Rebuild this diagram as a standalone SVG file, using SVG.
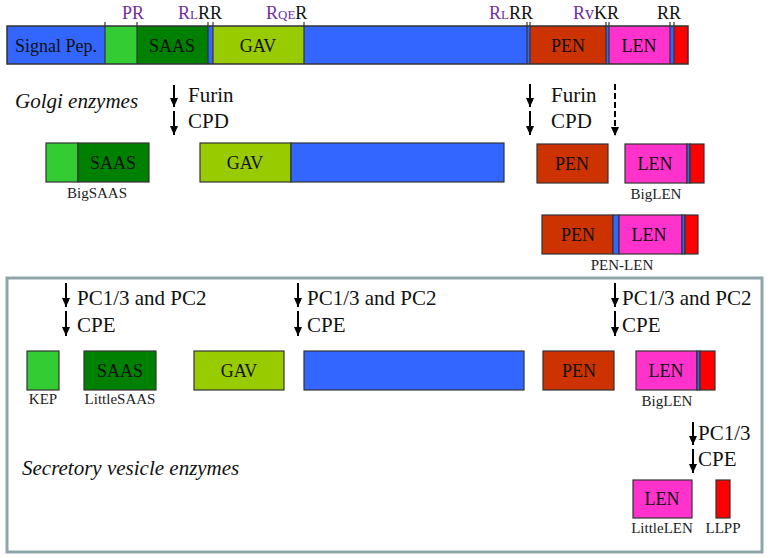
<svg xmlns="http://www.w3.org/2000/svg" width="770" height="558" viewBox="0 0 770 558" font-family="'Liberation Serif', serif">
<style>
.seg{stroke:#333;stroke-width:1.2}
.sp{fill:#3366FF}.lg{fill:#33CC33}.dg{fill:#008000}.gav{fill:#99CC00}.pen{fill:#CC3300}.len{fill:#FF33CC}.red{fill:#FF0000}
text{font-family:'Liberation Serif', serif}
.t{fill:#111}
.bar{font-size:18px}
.lab{font-size:15px;fill:#222}
.big{font-size:21px;fill:#111}
.it{font-style:italic}
.pu{fill:#7030A0}
.tick{stroke:#333;stroke-width:1.2}
.arr{stroke:#000;stroke-width:2;fill:none}
</style>
<defs>
<marker id="ah" markerUnits="userSpaceOnUse" markerWidth="9" markerHeight="8" refX="9" refY="4" orient="auto" viewBox="0 0 9 8">
<path d="M0,0 L9,4 L0,8 Z" fill="#000"/>
</marker>
</defs>

<g id="precursor">
<rect class="sp" x="7" y="26" width="98" height="38"/>
<rect class="lg" x="105" y="26" width="32" height="38"/>
<rect class="dg" x="137" y="26" width="71" height="38"/>
<rect class="sp" x="208" y="26" width="5" height="38"/>
<rect class="gav" x="213" y="26" width="91" height="38"/>
<rect class="sp" x="304" y="26" width="226" height="38"/>
<rect class="pen" x="530" y="26" width="76" height="38"/>
<rect class="sp" x="606" y="26" width="3" height="38"/>
<rect class="len" x="609" y="26" width="61" height="38"/>
<rect class="sp" x="670" y="26" width="4" height="38"/>
<rect class="red" x="674" y="26" width="14" height="38"/>
<rect x="7" y="26" width="681" height="38" fill="none" stroke="#333" stroke-width="1.5"/>
<line class="tick" x1="105" y1="22" x2="105" y2="64"/>
<line class="tick" x1="137" y1="22" x2="137" y2="64"/>
<line class="tick" x1="208" y1="22" x2="208" y2="64"/>
<line class="tick" x1="213" y1="22" x2="213" y2="64"/>
<line class="tick" x1="304" y1="22" x2="304" y2="64"/>
<line class="tick" x1="527" y1="22" x2="527" y2="64"/>
<line class="tick" x1="530" y1="22" x2="530" y2="64"/>
<line class="tick" x1="606" y1="22" x2="606" y2="64"/>
<line class="tick" x1="609" y1="22" x2="609" y2="64"/>
<line class="tick" x1="670" y1="22" x2="670" y2="64"/>
<line class="tick" x1="674" y1="22" x2="674" y2="64"/>
<text class="t bar" x="15" y="52">Signal Pep.</text>
<text class="t bar" x="172" y="52" text-anchor="middle">SAAS</text>
<text class="t bar" x="258" y="52" text-anchor="middle">GAV</text>
<text class="t bar" x="568" y="52" text-anchor="middle">PEN</text>
<text class="t bar" x="639" y="52" text-anchor="middle">LEN</text>
<text class="t bar" x="122" y="19"><tspan class="pu">PR</tspan></text>
<text class="t bar" x="178" y="19"><tspan class="pu">R</tspan><tspan class="pu" font-size="13">L</tspan><tspan fill="#111">RR</tspan></text>
<text class="t bar" x="266" y="19"><tspan class="pu">R</tspan><tspan class="pu" font-size="13">QE</tspan><tspan fill="#111">R</tspan></text>
<text class="t bar" x="489" y="19"><tspan class="pu">R</tspan><tspan class="pu" font-size="13">L</tspan><tspan fill="#111">RR</tspan></text>
<text class="t bar" x="573" y="19"><tspan class="pu">Rv</tspan><tspan fill="#111">KR</tspan></text>
<text class="t bar" x="657" y="19">RR</text>
</g>

<g id="golgi-label">
<text class="t big it" x="15" y="108">Golgi enzymes</text>
</g>

<g id="connectors">
<line class="arr" x1="174" y1="85" x2="174" y2="107" marker-end="url(#ah)"/>
<line class="arr" x1="174" y1="111" x2="174" y2="135" marker-end="url(#ah)"/>
<line class="arr" x1="530" y1="84" x2="530" y2="107" marker-end="url(#ah)"/>
<line class="arr" x1="530" y1="111" x2="530" y2="135" marker-end="url(#ah)"/>
<line class="arr" x1="615" y1="84" x2="615" y2="136" stroke-dasharray="6,3" marker-end="url(#ah)"/>
<line class="arr" x1="66" y1="283" x2="66" y2="307" marker-end="url(#ah)"/>
<line class="arr" x1="66" y1="311" x2="66" y2="336" marker-end="url(#ah)"/>
<line class="arr" x1="298" y1="283" x2="298" y2="307" marker-end="url(#ah)"/>
<line class="arr" x1="298" y1="311" x2="298" y2="336" marker-end="url(#ah)"/>
<line class="arr" x1="615" y1="283" x2="615" y2="307" marker-end="url(#ah)"/>
<line class="arr" x1="615" y1="311" x2="615" y2="336" marker-end="url(#ah)"/>
<line class="arr" x1="693" y1="422" x2="693" y2="445" marker-end="url(#ah)"/>
<line class="arr" x1="693" y1="449" x2="693" y2="473" marker-end="url(#ah)"/>
</g>

<g id="enzyme-labels">
<text class="t big" x="188" y="102">Furin</text>
<text class="t big" x="188" y="128">CPD</text>
<text class="t big" x="551" y="102">Furin</text>
<text class="t big" x="551" y="128">CPD</text>
<text class="t big" x="77" y="305">PC1/3 and PC2</text>
<text class="t big" x="77" y="332">CPE</text>
<text class="t big" x="307" y="305">PC1/3 and PC2</text>
<text class="t big" x="307" y="332">CPE</text>
<text class="t big" x="622" y="305">PC1/3 and PC2</text>
<text class="t big" x="622" y="332">CPE</text>
<text class="t big" x="698" y="440">PC1/3</text>
<text class="t big" x="698" y="466">CPE</text>
</g>

<g id="bigsaas">
<rect class="lg seg" x="46" y="143" width="32" height="39"/>
<rect class="dg seg" x="78" y="143" width="71" height="39"/>
<text class="t bar" x="113" y="169" text-anchor="middle">SAAS</text>
<text class="t lab" x="97" y="198" text-anchor="middle">BigSAAS</text>
</g>

<g id="gav-golgi">
<rect class="gav seg" x="200" y="143" width="91" height="39"/>
<rect class="sp seg" x="291" y="143" width="213" height="39"/>
<text class="t bar" x="245" y="169" text-anchor="middle">GAV</text>
</g>

<g id="pen-golgi">
<rect class="pen seg" x="537" y="144" width="71" height="39"/>
<text class="t bar" x="572" y="170" text-anchor="middle">PEN</text>
</g>

<g id="biglen-golgi">
<rect class="len seg" x="625" y="144" width="62" height="39"/>
<rect class="sp seg" x="687" y="144" width="3" height="39"/>
<rect class="red seg" x="690" y="144" width="14" height="39"/>
<text class="t bar" x="655" y="170" text-anchor="middle">LEN</text>
<text class="t lab" x="656" y="199" text-anchor="middle">BigLEN</text>
</g>

<g id="pen-len">
<rect class="pen seg" x="542" y="215" width="71" height="39"/>
<rect class="sp seg" x="613" y="215" width="6" height="39"/>
<rect class="len seg" x="619" y="215" width="63" height="39"/>
<rect class="sp seg" x="682" y="215" width="3" height="39"/>
<rect class="red seg" x="685" y="215" width="13" height="39"/>
<text class="t bar" x="578" y="241" text-anchor="middle">PEN</text>
<text class="t bar" x="649" y="241" text-anchor="middle">LEN</text>
<text class="t lab" x="622" y="270" text-anchor="middle">PEN-LEN</text>
</g>

<g id="secretory-box">
<rect x="7" y="278" width="755" height="274" fill="none" stroke="#8FA5AA" stroke-width="3"/>
<text class="t big it" x="22" y="475">Secretory vesicle enzymes</text>
</g>

<g id="kep">
<rect class="lg seg" x="27" y="351" width="32" height="39"/>
<text class="t lab" x="43" y="404" text-anchor="middle">KEP</text>
</g>

<g id="littlesaas">
<rect class="dg seg" x="84" y="351" width="72" height="39"/>
<text class="t bar" x="120" y="377" text-anchor="middle">SAAS</text>
<text class="t lab" x="120" y="404" text-anchor="middle">LittleSAAS</text>
</g>

<g id="gav-sv">
<rect class="gav seg" x="194" y="351" width="90" height="39"/>
<text class="t bar" x="239" y="377" text-anchor="middle">GAV</text>
</g>

<g id="blue-sv">
<rect class="sp seg" x="304" y="351" width="220" height="39"/>
</g>

<g id="pen-sv">
<rect class="pen seg" x="543" y="351" width="71" height="39"/>
<text class="t bar" x="579" y="377" text-anchor="middle">PEN</text>
</g>

<g id="biglen-sv">
<rect class="len seg" x="636" y="351" width="61" height="39"/>
<rect class="sp seg" x="697" y="351" width="3" height="39"/>
<rect class="red seg" x="700" y="351" width="15" height="39"/>
<text class="t bar" x="666" y="377" text-anchor="middle">LEN</text>
<text class="t lab" x="667" y="406" text-anchor="middle">BigLEN</text>
</g>

<g id="littlelen">
<rect class="len seg" x="633" y="480" width="59" height="38"/>
<text class="t bar" x="662" y="505" text-anchor="middle">LEN</text>
<text class="t lab" x="662" y="533" text-anchor="middle">LittleLEN</text>
</g>

<g id="llpp">
<rect class="red seg" x="716" y="480" width="14" height="38"/>
<text class="t lab" x="723" y="533" text-anchor="middle">LLPP</text>
</g>
</svg>
